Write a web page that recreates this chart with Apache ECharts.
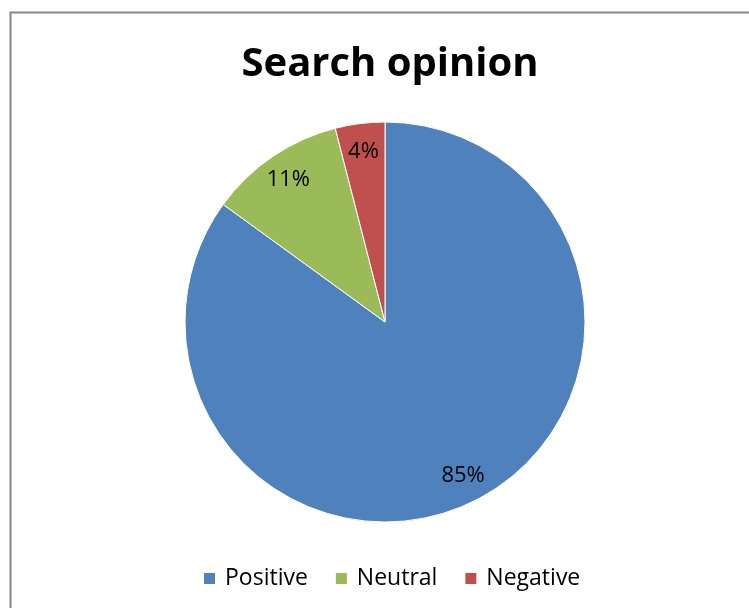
<!DOCTYPE html>
<html><head><meta charset="utf-8">
<script src="https://cdn.jsdelivr.net/npm/echarts@6/dist/echarts.min.js"></script>
<style>html,body{margin:0;padding:0;background:#fff}#c{width:749px;height:608px}</style>
</head><body><div id="c"></div>
<script>
const categories = ['Positive', 'Neutral', 'Negative'];
const values = [85, 11, 4];
const colors = ['#4F81BD', '#9BBB59', '#C0504D'];
const titleText = 'Search opinion';

const data = categories.map((n, i) => ({name: n, value: values[i]}));
const chart = echarts.init(document.getElementById('c'), null, {renderer: 'canvas'});
chart.setOption({
  animation: false,
  backgroundColor: '#fff',
  graphic: [{
    type: 'rect', left: 8, top: 10,
    shape: {width: 760, height: 620},
    style: {fill: 'none', stroke: '#868686', lineWidth: 2}
  }],
  title: {
    text: titleText, left: 385, textAlign: 'center', top: 40,
    textStyle: {fontFamily: 'Open Sans', fontWeight: 'bold', fontSize: 40, color: '#000'}
  },
  legend: {
    data: categories, top: 562, left: 197,
    icon: 'rect', itemWidth: 13, itemHeight: 13, itemGap: 26,
    textStyle: {fontFamily: 'Open Sans', fontSize: 23, color: '#000', padding: [0, 0, 0, 4]}
  },
  series: [{
    type: 'pie', center: [385, 322], radius: 200,
    startAngle: 90, clockwise: true,
    color: colors,
    itemStyle: {borderColor: '#fff', borderWidth: 1},
    label: {show: false},
    labelLine: {show: false},
    data: data
  }, {
    type: 'pie', center: [385, 322], radius: [138, 200],
    startAngle: 90, clockwise: true, silent: true,
    color: colors,
    itemStyle: {color: 'rgba(0,0,0,0)', borderWidth: 0},
    label: {
      position: 'inner', formatter: '{c}%',
      fontFamily: 'Open Sans', fontSize: 22, color: '#000'
    },
    labelLine: {show: false},
    emphasis: {disabled: true},
    data: data
  }]
});
</script></body></html>
